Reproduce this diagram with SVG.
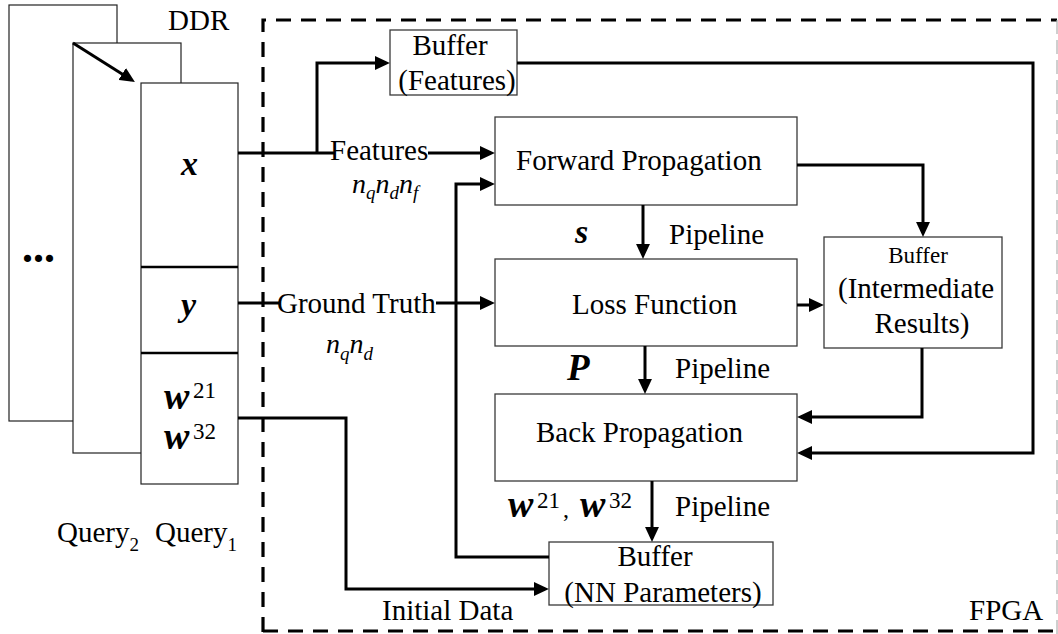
<svg xmlns="http://www.w3.org/2000/svg" width="1058" height="634" viewBox="0 0 1058 634">
  <style>
    .ddr { fill: #fff; stroke: #222; stroke-width: 1.2; }
    .box { fill: #fff; stroke: #3a3a3a; stroke-width: 1.3; }
    .wire { fill: none; stroke: #000; stroke-width: 3; }
    .arrow { marker-end: url(#head); }
    .fpga { fill: none; stroke: #000; stroke-width: 3.2; stroke-dasharray: 15 10; }
    .fpga-edge { fill: none; stroke: #b0b0b0; stroke-width: 1.2; stroke-dasharray: 14 6; }
    text { font-family: "Liberation Serif", "Times New Roman", serif; fill: #000; }
    .t { font-size: 29px; }
    .small { font-size: 23px; }
    .m { font-weight: bold; font-style: italic; }
    .it { font-style: italic; }
  </style>
  <defs>
    <marker id="head" viewBox="0 0 10 10" refX="7.4" refY="5" markerWidth="15" markerHeight="14" markerUnits="userSpaceOnUse" orient="auto" preserveAspectRatio="none">
      <path d="M0,0 L10,5 L0,10 z" fill="#000"/>
    </marker>
  </defs>

  <!-- FPGA boundary -->
  <g id="fpga">
    <path class="fpga" d="M263,632 V20 H1057"/>
    <path class="fpga" d="M263,631 H1058"/>
    <path class="fpga-edge" d="M1057,20 V634"/>
    <text class="t" x="969" y="620">FPGA</text>
  </g>

  <!-- DDR query stack -->
  <g id="ddr">
    <rect class="ddr" x="9" y="5" width="108" height="416"/>
    <rect class="ddr" x="73" y="43" width="108" height="410"/>
    <rect class="ddr" x="141" y="83" width="97" height="401"/>
    <line x1="141" y1="267" x2="238" y2="267" stroke="#000" stroke-width="2.6"/>
    <line x1="141" y1="353" x2="238" y2="353" stroke="#000" stroke-width="2.6"/>
    <text class="t" x="168" y="30">DDR</text>
    <text x="22" y="262" font-size="44" font-weight="bold">...</text>
    <text class="m" x="181" y="175" font-size="34">x</text>
    <text class="m" x="181" y="316" font-size="34">y</text>
    <text x="164" y="409"><tspan class="m" font-size="38">w</tspan><tspan x="193" y="398" font-size="23">21</tspan></text>
    <text x="164" y="449"><tspan class="m" font-size="38">w</tspan><tspan x="193" y="439" font-size="23">32</tspan></text>
    <text class="t" x="57" y="542" font-size="28">Query<tspan dy="9" font-size="19">2</tspan><tspan x="155" y="542">Query</tspan><tspan dy="9" font-size="19">1</tspan></text>
  </g>

  <!-- processing blocks -->
  <g id="buffer-features">
    <rect class="box" x="390" y="30" width="127" height="65"/>
    <text class="t" x="450" y="55" text-anchor="middle">Buffer</text>
    <text class="t" x="457" y="90" text-anchor="middle">(Features)</text>
  </g>
  <g id="forward-propagation">
    <rect class="box" x="495" y="117" width="302" height="88"/>
    <text class="t" x="516" y="170">Forward Propagation</text>
  </g>
  <g id="loss-function">
    <rect class="box" x="495" y="259" width="302" height="87"/>
    <text class="t" x="572" y="314">Loss Function</text>
  </g>
  <g id="back-propagation">
    <rect class="box" x="495" y="394" width="302" height="87"/>
    <text class="t" x="536" y="442">Back Propagation</text>
  </g>
  <g id="buffer-intermediate">
    <rect class="box" x="824" y="237" width="178" height="111"/>
    <text class="small" x="918" y="263" text-anchor="middle">Buffer</text>
    <text class="t" x="838" y="298">(Intermediate</text>
    <text class="t" x="922" y="333" text-anchor="middle">Results)</text>
  </g>
  <g id="buffer-nn">
    <rect class="box" x="549" y="542" width="224" height="63"/>
    <text class="t" x="655" y="566" text-anchor="middle">Buffer</text>
    <text class="t" x="663" y="602" text-anchor="middle">(NN Parameters)</text>
  </g>

  <!-- connectors -->
  <g id="connectors">
    <path class="wire arrow" d="M73,43 L131.6,79.9"/>
    <path class="wire" d="M238,153 H334"/>
    <path class="wire arrow" d="M428,153 H491"/>
    <path class="wire arrow" d="M317,153 V63 H386"/>
    <path class="wire" d="M238,303 H279"/>
    <path class="wire arrow" d="M436,303 H491"/>
    <path class="wire arrow" d="M238,418 H346 V589 H545"/>
    <path class="wire arrow" d="M549,557 H456 V184 H491"/>
    <path class="wire arrow" d="M797,165 H923 V233"/>
    <path class="wire arrow" d="M517,63 H1033 V453 H801"/>
    <path class="wire arrow" d="M922,348 V417 H801"/>
    <path class="wire arrow" d="M797,305 H820"/>
    <path class="wire arrow" d="M643,205 V255"/>
    <path class="wire arrow" d="M645,346 V390"/>
    <path class="wire arrow" d="M652,481 V538"/>
  </g>

  <!-- connector labels -->
  <g id="labels">
    <text class="t" x="330" y="160">Features</text>
    <text class="it" x="352" y="193" font-size="28">n<tspan dy="6" font-size="19">q</tspan><tspan dy="-6">n</tspan><tspan dy="6" font-size="19">d</tspan><tspan dy="-6">n</tspan><tspan dy="6" font-size="19">f</tspan></text>
    <text class="t" x="277" y="313">Ground Truth</text>
    <text class="it" x="326" y="353" font-size="28">n<tspan dy="7" font-size="19">q</tspan><tspan dy="-7">n</tspan><tspan dy="7" font-size="19">d</tspan></text>
    <text class="m" x="575" y="243" font-size="34">s</text>
    <text class="t" x="669" y="244">Pipeline</text>
    <text class="m" x="567" y="380" font-size="37">P</text>
    <text class="t" x="675" y="378">Pipeline</text>
    <text x="508" y="517"><tspan class="m" font-size="38">w</tspan><tspan x="537" y="508" font-size="23">21</tspan><tspan x="563" y="517" font-size="24">,</tspan><tspan class="m" x="580" y="517" font-size="38">w</tspan><tspan x="609" y="508" font-size="23">32</tspan></text>
    <text class="t" x="675" y="516">Pipeline</text>
    <text class="t" x="382" y="620">Initial Data</text>
  </g>
</svg>
